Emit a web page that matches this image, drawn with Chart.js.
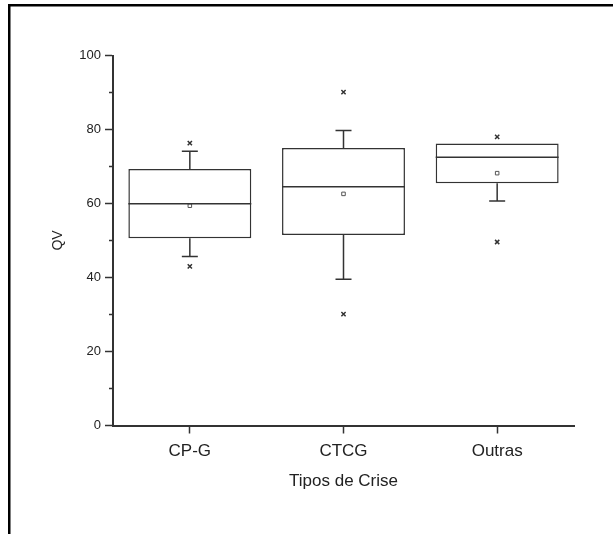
<!DOCTYPE html>
<html>
<head>
<meta charset="utf-8">
<script src="https://cdn.jsdelivr.net/npm/chart.js@4/dist/chart.umd.min.js"></script>
<style>
  html, body { margin: 0; padding: 0; background: #fff; }
  #chartBox { width: 613px; height: 534px; }
</style>
</head>
<body>
<div id="chartBox"><canvas id="qvChart" width="613" height="534"></canvas></div>
<script>
// Tipos de crise vs QV (box plot)
const categories = ["CP-G", "CTCG", "Outras"];
const q1Values = [50.6, 51.5, 65.5];
const q3Values = [69.3, 75.0, 76.2];
const medianValues = [59.9, 64.5, 72.5];
const whiskerLow = [45.7, 39.5, 60.7];
const whiskerHigh = [74.1, 79.7, 76.2];
const meanValues = [59.4, 62.6, 68.2];
const maxValues = [76.3, 90.1, 78.0];
const minValues = [43.0, 30.1, 49.6];

const lineColor = "#333";
const fontFamily = "'Liberation Sans', Arial, sans-serif";

// white page + black frame (top and left edges only)
const framePlugin = {
    id: "frame",
    beforeDraw(chart) {
        const ctx = chart.ctx;
        ctx.save();
        ctx.fillStyle = "#fff";
        ctx.fillRect(0, 0, chart.width, chart.height);
        ctx.fillStyle = "#000";
        ctx.fillRect(8, 4, chart.width - 8, 2.5);
        ctx.fillRect(8, 4, 2.5, chart.height - 4);
        ctx.restore();
    }
};

// median lines, whiskers and minor y ticks
const boxPlugin = {
    id: "boxParts",
    afterDatasetsDraw(chart) {
        const ctx = chart.ctx;
        const x = chart.scales.x;
        const y = chart.scales.y;
        const boxMeta = chart.getDatasetMeta(0);
        ctx.save();
        ctx.strokeStyle = lineColor;
        ctx.lineWidth = 1.5;
        categories.forEach((c, i) => {
            const cx = x.getPixelForValue(i);
            const half = boxMeta.data[i].width / 2;
            const cap = 8;
            ctx.beginPath();
            // median
            ctx.moveTo(cx - half, y.getPixelForValue(medianValues[i]));
            ctx.lineTo(cx + half, y.getPixelForValue(medianValues[i]));
            // upper whisker
            if (whiskerHigh[i] > q3Values[i]) {
                ctx.moveTo(cx, y.getPixelForValue(q3Values[i]));
                ctx.lineTo(cx, y.getPixelForValue(whiskerHigh[i]));
                ctx.moveTo(cx - cap, y.getPixelForValue(whiskerHigh[i]));
                ctx.lineTo(cx + cap, y.getPixelForValue(whiskerHigh[i]));
            }
            // lower whisker
            if (whiskerLow[i] < q1Values[i]) {
                ctx.moveTo(cx, y.getPixelForValue(q1Values[i]));
                ctx.lineTo(cx, y.getPixelForValue(whiskerLow[i]));
                ctx.moveTo(cx - cap, y.getPixelForValue(whiskerLow[i]));
                ctx.lineTo(cx + cap, y.getPixelForValue(whiskerLow[i]));
            }
            ctx.stroke();
        });
        // minor ticks on y axis
        ctx.lineWidth = 1.5;
        ctx.beginPath();
        for (let v = 10; v < 100; v += 20) {
            const py = y.getPixelForValue(v);
            ctx.moveTo(y.right - 4, py);
            ctx.lineTo(y.right, py);
        }
        ctx.stroke();
        ctx.restore();
    }
};

new Chart(document.getElementById("qvChart"), {
    type: "bar",
    data: {
        labels: categories,
        datasets: [
            {
                label: "box",
                data: q1Values.map((v, i) => [v, q3Values[i]]),
                backgroundColor: "#fff",
                borderColor: lineColor,
                borderWidth: 1.5,
                borderSkipped: false,
                barPercentage: 0.8,
                categoryPercentage: 1,
                order: 2
            },
            {
                label: "mean",
                type: "line",
                data: meanValues,
                showLine: false,
                pointStyle: "rect",
                pointRadius: 2.5,
                pointBorderWidth: 1,
                pointBorderColor: "#555",
                pointBackgroundColor: "#fff",
                order: 0
            },
            {
                label: "max",
                type: "line",
                data: maxValues,
                showLine: false,
                pointStyle: "crossRot",
                pointRadius: 3,
                pointBorderWidth: 1.5,
                pointBorderColor: lineColor,
                order: 0
            },
            {
                label: "min",
                type: "line",
                data: minValues,
                showLine: false,
                pointStyle: "crossRot",
                pointRadius: 3,
                pointBorderWidth: 1.5,
                pointBorderColor: lineColor,
                order: 0
            }
        ]
    },
    options: {
        responsive: false,
        animation: false,
        layout: { padding: { top: 55.5, right: 39, left: 0, bottom: 0 } },
        plugins: {
            legend: { display: false },
            tooltip: { enabled: false }
        },
        scales: {
            x: {
                offset: true,
                grid: {
                    offset: false,
                    drawOnChartArea: false,
                    tickLength: 8,
                    tickColor: lineColor,
                    tickWidth: 1.5
                },
                border: { color: lineColor, width: 2 },
                ticks: {
                    padding: 8,
                    color: "#222",
                    font: { family: fontFamily, size: 17 }
                },
                title: {
                    display: true,
                    text: "Tipos de Crise",
                    color: "#222",
                    font: { family: fontFamily, size: 17 },
                    padding: { top: 0, bottom: 42 }
                },
                afterFit(scale) { scale.height = 108.5; }
            },
            y: {
                min: 0,
                max: 100,
                ticks: {
                    stepSize: 20,
                    padding: 4,
                    color: "#222",
                    font: { family: fontFamily, size: 13 }
                },
                grid: {
                    drawOnChartArea: false,
                    tickLength: 8,
                    tickColor: lineColor,
                    tickWidth: 1.5
                },
                border: { color: lineColor, width: 2 },
                title: {
                    display: true,
                    text: "QV",
                    color: "#222",
                    font: { family: fontFamily, size: 14 },
                    padding: { top: 50, bottom: 0 }
                },
                afterFit(scale) { scale.width = 113; }
            }
        }
    },
    plugins: [framePlugin, boxPlugin]
});
</script>
</body>
</html>
